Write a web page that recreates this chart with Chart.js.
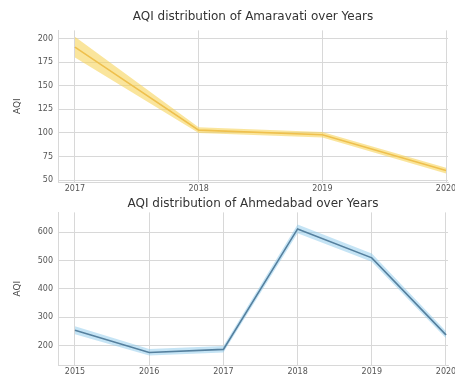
<!DOCTYPE html>
<html><head><meta charset="utf-8">
<script src="https://cdn.jsdelivr.net/npm/chart.js@4/dist/chart.umd.min.js"></script>
<style>
html,body{margin:0;padding:0;background:#fff;width:455px;height:385px;overflow:hidden}
#w1{position:absolute;left:0;top:0;width:455px;height:195px}
#w2{position:absolute;left:0;top:195px;width:455px;height:190px}
</style></head><body>
<div id="w1"><canvas id="c1"></canvas></div>
<div id="w2"><canvas id="c2"></canvas></div>
<script>
const amaravatiYears = [2017, 2018, 2019, 2020];
const amaravatiAQI   = [191, 103, 98, 60];
const amaravatiLow   = [180, 100, 95, 57];
const amaravatiHigh  = [202, 106, 101, 63];
const amaravatiTicks = [50, 75, 100, 125, 150, 175, 200];

const ahmedabadYears = [2015, 2016, 2017, 2018, 2019, 2020];
const ahmedabadAQI   = [254, 176, 187, 611, 509, 238];
const ahmedabadLow   = [240, 165, 176, 596, 495, 226];
const ahmedabadHigh  = [268, 188, 199, 626, 524, 251];
const ahmedabadTicks = [200, 300, 400, 500, 600];

const FONT = "'DejaVu Sans', sans-serif";
const pts = (xs, ys) => xs.map((x, i) => ({x, y: ys[i]}));

function make(id, cfg) {
  const ds = [
    {data: pts(cfg.years, cfg.low), borderWidth: 0, pointRadius: 0, fill: false, tension: 0},
    {data: pts(cfg.years, cfg.high), borderWidth: 0, pointRadius: 0, fill: '-1', backgroundColor: cfg.band, tension: 0},
    {data: pts(cfg.years, cfg.mean), borderColor: cfg.line, borderWidth: 1.6, pointRadius: 0, fill: false, tension: 0}
  ];
  new Chart(document.getElementById(id), {
    type: 'line',
    data: {datasets: ds},
    options: {
      responsive: true, maintainAspectRatio: false, animation: false,
      layout: {padding: {left: 12, right: 7, top: 0, bottom: 0}},
      plugins: {
        legend: {display: false}, tooltip: {enabled: false},
        title: {display: true, fullSize: false, text: cfg.title, color: '#333', font: {family: FONT, size: 12, weight: 'normal'}, padding: cfg.titlePad}
      },
      scales: {
        x: {
          type: 'linear', min: cfg.xmin, max: cfg.xmax,
          afterBuildTicks: s => { s.ticks = cfg.years.map(v => ({value: v})); },
          afterFit: s => { s.height = cfg.xh; s.paddingLeft = 0; s.paddingRight = 0; },
          ticks: {color: '#555', font: {family: FONT, size: 8}, padding: 2, maxRotation: 0, callback: v => String(v)},
          grid: {color: '#d8d8d8', drawTicks: false, lineWidth: 1},
          border: {color: '#d8d8d8'}
        },
        y: {
          min: cfg.ymin, max: cfg.ymax,
          afterBuildTicks: s => { s.ticks = cfg.ticks.map(v => ({value: v})); },
          afterFit: s => { s.width = 46; s.paddingTop = 0; s.paddingBottom = 0; },
          ticks: {color: '#555', font: {family: FONT, size: 8}, padding: 5},
          grid: {color: '#d8d8d8', drawTicks: false, lineWidth: 1},
          border: {color: '#d8d8d8'},
          title: {display: true, text: 'AQI', color: '#444', font: {family: FONT, size: 9}, padding: 0}
        }
      }
    }
  });
}

make('c1', {
  title: 'AQI distribution of Amaravati over Years',
  years: amaravatiYears, mean: amaravatiAQI, low: amaravatiLow, high: amaravatiHigh, ticks: amaravatiTicks,
  xmin: 2016.863, xmax: 2020.016, ymin: 47.9, ymax: 208.8, xh: 13,
  line: '#e3a33a', band: 'rgba(246, 212, 90, 0.6)', titlePad: {top: 10, bottom: 6}
});
make('c2', {
  title: 'AQI distribution of Ahmedabad over Years',
  years: ahmedabadYears, mean: ahmedabadAQI, low: ahmedabadLow, high: ahmedabadHigh, ticks: ahmedabadTicks,
  xmin: 2014.771, xmax: 2020.027, ymin: 132, ymax: 669, xh: 20,
  line: '#1f3650', band: 'rgba(140, 202, 236, 0.5)', titlePad: {top: 2, bottom: 1}
});
</script>
</body></html>
